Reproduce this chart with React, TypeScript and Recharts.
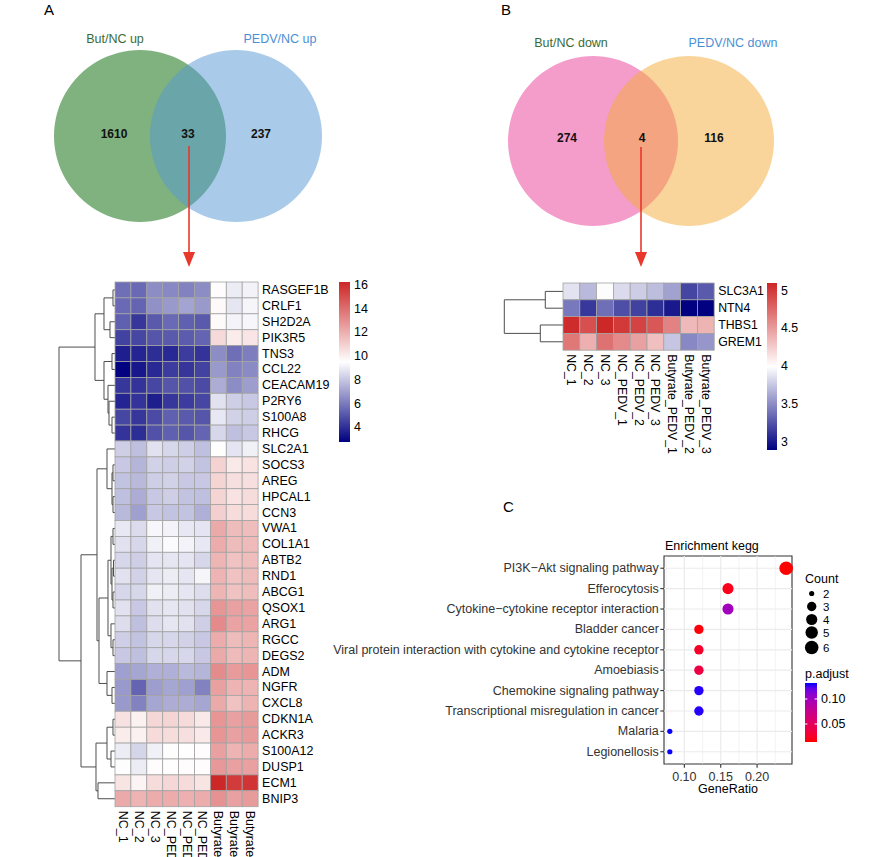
import React from 'react';
import { PieChart, Pie, Cell, ScatterChart, Scatter, XAxis, YAxis, ReferenceLine, ReferenceArea } from 'recharts';

const FONT = '"Liberation Sans", Arial, Helvetica, sans-serif';

// ---------- Venn data ----------
const vennALabels = ['But/NC up', 'PEDV/NC up'];
const vennACounts = [1610, 33, 237];
const vennBLabels = ['But/NC down', 'PEDV/NC down'];
const vennBCounts = [274, 4, 116];

// ---------- Heatmap data ----------
const samples = ['NC_1', 'NC_2', 'NC_3', 'NC_PEDV_1', 'NC_PEDV_2', 'NC_PEDV_3', 'Butyrate_PEDV_1', 'Butyrate_PEDV_2', 'Butyrate_PEDV_3'];

const genesA = ['RASGEF1B', 'CRLF1', 'SH2D2A', 'PIK3R5', 'TNS3', 'CCL22', 'CEACAM19', 'P2RY6', 'S100A8', 'RHCG',
  'SLC2A1', 'SOCS3', 'AREG', 'HPCAL1', 'CCN3', 'VWA1', 'COL1A1', 'ABTB2', 'RND1', 'ABCG1', 'QSOX1', 'ARG1', 'RGCC',
  'DEGS2', 'ADM', 'NGFR', 'CXCL8', 'CDKN1A', 'ACKR3', 'S100A12', 'DUSP1', 'ECM1', 'BNIP3'];

const exprA = [
  [5.7, 5.55, 6.5, 6.35, 6.2, 6.5, 9.6, 9.0, 9.15],
  [5.55, 5.4, 6.6, 6.8, 7.1, 6.8, 9.7, 8.85, 9.25],
  [5.3, 4.2, 5.15, 5.55, 5.3, 5.15, 9.65, 9.2, 9.3],
  [4.5, 4.6, 5.0, 5.15, 5.2, 5.4, 10.7, 10.1, 10.3],
  [3.55, 3.7, 3.95, 3.85, 4.35, 4.1, 6.5, 5.7, 6.1],
  [2.8, 3.4, 3.85, 4.35, 4.15, 4.5, 6.8, 6.2, 6.4],
  [4.2, 4.1, 4.6, 5.0, 4.9, 4.75, 7.3, 6.5, 6.9],
  [3.7, 4.1, 3.55, 4.2, 4.35, 4.6, 8.7, 8.2, 8.05],
  [4.6, 4.2, 4.75, 5.3, 5.15, 5.0, 8.9, 8.3, 8.2],
  [4.1, 3.95, 4.9, 5.3, 5.0, 5.4, 8.45, 7.8, 8.05],
  [8.2, 7.8, 8.7, 8.45, 8.2, 7.8, 9.55, 8.8, 9.1],
  [8.05, 7.55, 8.3, 8.2, 8.3, 7.9, 10.9, 10.2, 10.4],
  [7.9, 7.65, 8.2, 8.3, 8.05, 8.05, 10.85, 10.5, 10.5],
  [7.8, 7.3, 8.05, 8.2, 7.9, 7.8, 10.85, 10.4, 10.6],
  [7.65, 7.0, 8.05, 7.9, 7.9, 7.4, 11.0, 10.6, 10.6],
  [8.9, 8.55, 9.3, 9.2, 8.9, 8.8, 12.15, 11.6, 11.55],
  [8.7, 8.45, 9.1, 9.4, 9.2, 8.9, 12.1, 11.6, 11.65],
  [8.45, 8.2, 8.8, 8.85, 8.8, 8.45, 11.8, 11.4, 11.55],
  [8.7, 8.3, 8.85, 9.0, 8.85, 9.25, 11.85, 11.4, 11.6],
  [8.45, 8.45, 9.1, 9.0, 8.85, 8.6, 11.8, 11.4, 11.55],
  [8.7, 8.05, 8.7, 8.85, 8.7, 8.45, 12.8, 12.45, 12.4],
  [8.6, 7.8, 8.6, 8.85, 8.7, 8.2, 13.15, 12.4, 12.4],
  [8.2, 7.9, 8.45, 8.45, 8.3, 8.05, 12.1, 11.6, 11.8],
  [8.05, 7.8, 8.45, 8.45, 8.45, 8.05, 12.15, 11.65, 11.8],
  [7.0, 7.15, 7.4, 7.4, 7.65, 7.55, 13.1, 12.6, 12.8],
  [6.8, 5.4, 6.9, 7.15, 7.0, 6.2, 12.45, 11.85, 11.85],
  [6.8, 6.2, 7.15, 7.3, 7.3, 7.15, 12.15, 11.4, 11.85],
  [10.45, 9.95, 10.75, 10.85, 10.65, 10.2, 12.8, 12.45, 12.6],
  [10.1, 9.95, 10.65, 10.6, 10.5, 10.2, 12.8, 12.45, 12.6],
  [9.0, 8.4, 9.1, 9.45, 9.55, 9.6, 12.45, 11.85, 12.1],
  [9.45, 9.0, 9.6, 9.55, 9.6, 9.6, 12.7, 12.45, 12.45],
  [10.35, 9.85, 10.6, 10.75, 10.65, 10.35, 16.2, 15.6, 15.8],
  [12.15, 11.85, 12.1, 12.1, 12.0, 12.1, 12.9, 12.45, 12.6],
];
const rangeA = [2.76, 16.25];
const legendTicksA = [4, 6, 8, 10, 12, 14, 16];
// hclust-style merges: [a, b, height]; negative = leaf (row index + 1), positive = earlier merge (1-based)
const dendroA = [
  [-1, -2, 2], [-3, -4, 5], [1, 2, 11], [-5, -6, 3], [-9, -10, 3], [-8, 5, 6], [-7, 6, 7], [4, 7, 11],
  [3, 8, 20], [-12, -13, 2], [-14, -15, 2], [10, 11, 3], [-11, 12, 8], [-16, -17, 2], [-18, -19, 1.5],
  [-20, -21, 2], [15, 16, 3], [14, 17, 4], [-23, -24, 2], [-22, 19, 4], [18, 20, 7], [-26, -27, 3],
  [-25, 22, 8], [21, 23, 16], [13, 24, 18], [-28, -29, 2], [-30, -31, 4], [26, 27, 8], [-32, -33, 17],
  [28, 29, 19], [25, 30, 34], [9, 31, 56],
];

const genesB = ['SLC3A1', 'NTN4', 'THBS1', 'GREM1'];
const exprB = [
  [3.87, 3.69, 3.98, 3.84, 3.78, 3.71, 3.59, 3.19, 3.28],
  [3.41, 3.13, 3.37, 3.23, 3.17, 3.09, 3.0, 2.89, 2.9],
  [5.07, 4.89, 5.09, 5.0, 4.95, 4.85, 4.63, 4.35, 4.38],
  [4.68, 4.4, 4.72, 4.59, 4.48, 4.32, 3.75, 3.48, 3.54],
];
const rangeB = [2.89, 5.1];
const legendTicksB = [3, 3.5, 4, 4.5, 5];
const dendroB = [[-1, -2, 18], [-3, -4, 23], [1, 2, 59]];

// ---------- KEGG enrichment ----------
const pathways = [
  'PI3K\u2212Akt signaling pathway',
  'Efferocytosis',
  'Cytokine\u2212cytokine receptor interaction',
  'Bladder cancer',
  'Viral protein interaction with cytokine and cytokine receptor',
  'Amoebiasis',
  'Chemokine signaling pathway',
  'Transcriptional misregulation in cancer',
  'Malaria',
  'Legionellosis',
];
const geneRatio = [0.24, 0.16, 0.16, 0.12, 0.12, 0.12, 0.12, 0.12, 0.08, 0.08];
const geneCount = [6, 4, 4, 3, 3, 3, 3, 3, 2, 2];
const pAdjust = [0.0142, 0.021, 0.099, 0.016, 0.026, 0.037, 0.1305, 0.1305, 0.1318, 0.1318];
const ratioTicks = [0.1, 0.15, 0.2];
const ratioMinor = [0.075, 0.125, 0.175, 0.225];
const ratioDomain = [0.072, 0.248];
const countLegend = [2, 3, 4, 5, 6];
const pRange = [0.014, 0.132];
const pTicks = [0.05, 0.1];

// ---------- colour helpers ----------
const NAVY = [0, 0, 128];
const WHITE = [255, 255, 255];
const FIREBRICK = [205, 38, 38];
function heatColor(v: number, lo: number, hi: number) {
  const t = Math.max(0, Math.min(1, (v - lo) / (hi - lo)));
  let c: number[];
  if (t < 0.5) {
    const s = t * 2;
    c = NAVY.map((n, i) => n + (WHITE[i] - n) * s);
  } else {
    const s = (t - 0.5) * 2;
    c = WHITE.map((w, i) => w + (FIREBRICK[i] - w) * s);
  }
  return `rgb(${c.map((x) => Math.round(x)).join(',')})`;
}

function s2l(c: number) { c /= 255; return c <= 0.04045 ? c / 12.92 : Math.pow((c + 0.055) / 1.055, 2.4); }
function l2s(c: number) {
  const v = c <= 0.0031308 ? 12.92 * c : 1.055 * Math.pow(c, 1 / 2.4) - 0.055;
  return Math.round(Math.max(0, Math.min(1, v)) * 255);
}
function rgbToLab(rgb: number[]) {
  const R = s2l(rgb[0]), G = s2l(rgb[1]), B = s2l(rgb[2]);
  const X = (0.4124 * R + 0.3576 * G + 0.1805 * B) / 0.95047;
  const Y = 0.2126 * R + 0.7152 * G + 0.0722 * B;
  const Z = (0.0193 * R + 0.1192 * G + 0.9505 * B) / 1.08883;
  const f = (t: number) => (t > 0.008856 ? Math.cbrt(t) : 7.787 * t + 16 / 116);
  const fx = f(X), fy = f(Y), fz = f(Z);
  return [116 * fy - 16, 500 * (fx - fy), 200 * (fy - fz)];
}
function labToRgb(lab: number[]) {
  const fy = (lab[0] + 16) / 116, fx = fy + lab[1] / 500, fz = fy - lab[2] / 200;
  const inv = (t: number) => (t * t * t > 0.008856 ? t * t * t : (t - 16 / 116) / 7.787);
  const X = inv(fx) * 0.95047, Y = inv(fy), Z = inv(fz) * 1.08883;
  const R = 3.2406 * X - 1.5372 * Y - 0.4986 * Z;
  const G = -0.9689 * X + 1.8758 * Y + 0.0415 * Z;
  const B = 0.0557 * X - 0.204 * Y + 1.057 * Z;
  return [l2s(R), l2s(G), l2s(B)];
}
const LAB_RED = rgbToLab([255, 0, 0]);
const LAB_BLUE = rgbToLab([0, 0, 255]);
function pColorT(t: number) {
  const lab = LAB_RED.map((v, i) => v + (LAB_BLUE[i] - v) * t);
  const c = labToRgb(lab);
  return `rgb(${c.join(',')})`;
}
function pColor(p: number) {
  return pColorT(Math.max(0, Math.min(1, (p - pRange[0]) / (pRange[1] - pRange[0]))));
}
function dotRadius(count: number) {
  return 2.6 + 4.2 * Math.sqrt((count - 2) / 4);
}

function dendroSegments(merges: number[][]) {
  const pos: number[] = [];
  const hgt: number[] = [];
  const segs: number[][][] = [];
  const get = (id: number) => (id < 0 ? [-id - 1, 0] : [pos[id - 1], hgt[id - 1]]);
  merges.forEach(([a, b, h], i) => {
    const [ya, ha] = get(a);
    const [yb, hb] = get(b);
    segs.push([[ha, ya], [h, ya]], [[hb, yb], [h, yb]], [[h, ya], [h, yb]]);
    pos[i] = (ya + yb) / 2;
    hgt[i] = h;
  });
  return segs;
}

const range = (n: number) => Array.from({ length: n }, (_, i) => i);

// ---------- components ----------
function Heatmap(props: {
  left: number; top: number; cell: number; genes: string[]; expr: number[][]; lo: number; hi: number; fs: number;
}) {
  const { left, top, cell, genes, expr, lo, hi, fs } = props;
  const nR = genes.length, nC = samples.length;
  const data: any[] = [];
  expr.forEach((row, r) => row.forEach((v, c) => data.push({ x: c, y: r, v })));
  const m = 10;
  const yW = 100;
  const xH = 120;
  return (
    <div style={{ position: 'absolute', left: left - m, top: top - m }}>
      <ScatterChart width={m + nC * cell + yW} height={m + nR * cell + xH} margin={{ top: m, right: 0, bottom: 0, left: m }}>
        <XAxis type="number" dataKey="x" domain={[-0.5, nC - 0.5]} ticks={range(nC)} interval={0} height={xH}
          axisLine={false} tickLine={false} tickSize={0} tickMargin={4}
          tick={(p: any) => (
            <text transform={`translate(${p.x},${p.y}) rotate(90)`} x={0} y={0} fontSize={fs} fontFamily={FONT}
              dominantBaseline="central" textAnchor="start" fill="#000">{samples[p.payload.value]}</text>
          )} />
        <YAxis type="number" dataKey="y" domain={[-0.5, nR - 0.5]} reversed ticks={range(nR)} interval={0}
          orientation="right" width={yW} axisLine={false} tickLine={false} tickSize={0} tickMargin={4}
          tick={(p: any) => (
            <text x={p.x} y={p.y} fontSize={fs} fontFamily={FONT} dominantBaseline="central" textAnchor="start" fill="#000">
              {genes[p.payload.value]}
            </text>
          )} />
        <Scatter data={data} isAnimationActive={false}
          shape={(p: any) => (
            <rect x={p.cx - cell / 2} y={p.cy - cell / 2} width={cell} height={cell}
              fill={heatColor(p.payload.v, lo, hi)} stroke="#a3a3a3" strokeWidth={0.8} />
          )} />
      </ScatterChart>
    </div>
  );
}

function Dendro(props: { left: number; top: number; width: number; cell: number; n: number; merges: number[][] }) {
  const { left, top, width, cell, n, merges } = props;
  const segs = dendroSegments(merges);
  const m = 10;
  const leaves = range(n).map((i) => ({ x: 0, y: i }));
  return (
    <div style={{ position: 'absolute', left, top: top - m }}>
      <ScatterChart width={width} height={m * 2 + n * cell} margin={{ top: m, right: 0, bottom: m, left: 0 }}>
        <XAxis type="number" dataKey="x" domain={[0, width]} reversed hide />
        <YAxis type="number" dataKey="y" domain={[-0.5, n - 0.5]} reversed hide />
        <Scatter data={leaves} isAnimationActive={false} shape={() => <g />} />
        {segs.map((s, i) => (
          <ReferenceLine key={i} segment={[{ x: s[0][0], y: s[0][1] }, { x: s[1][0], y: s[1][1] }]}
            stroke="#4d4d4d" strokeWidth={1} ifOverflow="visible" />
        ))}
      </ScatterChart>
    </div>
  );
}

function ColorBar(props: {
  left: number; top: number; width: number; height: number; lo: number; hi: number; ticks: number[];
  grad: string; fs: number; fmt: (v: number) => string; whiteTicks?: boolean;
}) {
  const { left, top, width, height, lo, hi, ticks, grad, fs, fmt, whiteTicks } = props;
  const m = 10;
  const yW = 40;
  return (
    <div style={{ position: 'absolute', left: left - m, top: top - m }}>
      <ScatterChart width={m + width + yW} height={m + height + 5} margin={{ top: m, right: 0, bottom: 5, left: m }}>
        <XAxis type="number" dataKey="x" domain={[0, 1]} hide />
        <YAxis type="number" dataKey="y" domain={[lo, hi]} ticks={ticks} interval={0} orientation="right" width={yW}
          axisLine={false} tickLine={false} tickSize={0} tickMargin={4}
          tick={(p: any) => (
            <text x={p.x} y={p.y} fontSize={fs} fontFamily={FONT} dominantBaseline="central" textAnchor="start" fill="#000">
              {fmt(p.payload.value)}
            </text>
          )} />
        <Scatter data={ticks.map((t) => ({ x: 0.5, y: t }))} isAnimationActive={false} shape={() => <g />} />
        <ReferenceArea x1={0} x2={1} y1={lo} y2={hi} fill={`url(#${grad})`} fillOpacity={1} stroke="none" ifOverflow="visible" />
        {whiteTicks && ticks.map((t) => (
          <ReferenceLine key={'a' + t} segment={[{ x: 0, y: t }, { x: 0.2, y: t }]} stroke="#fff" strokeWidth={1} ifOverflow="visible" />
        ))}
        {whiteTicks && ticks.map((t) => (
          <ReferenceLine key={'b' + t} segment={[{ x: 0.8, y: t }, { x: 1, y: t }]} stroke="#fff" strokeWidth={1} ifOverflow="visible" />
        ))}
      </ScatterChart>
    </div>
  );
}

function DotPlot() {
  const data = pathways.map((name, i) => ({ idx: i, ratio: geneRatio[i], count: geneCount[i], p: pAdjust[i] }));
  const yW = 364;
  const plotW = 128;
  const plotH = 208;
  const fs = 12.5;
  return (
    <div style={{ position: 'absolute', left: 300, top: 546 }}>
      <ScatterChart width={yW + plotW + 10} height={10 + plotH + 30} margin={{ top: 10, right: 10, bottom: 0, left: 0 }}>
        <XAxis type="number" dataKey="ratio" domain={ratioDomain} ticks={ratioTicks} interval={0} height={30}
          axisLine={false} tickLine={{ stroke: '#333', strokeWidth: 1.1 }} tickSize={3.7} tickMargin={4}
          tick={(p: any) => (
            <text x={p.x} y={p.y} dy="0.71em" fontSize={fs} fontFamily={FONT} textAnchor="middle" fill="#333">
              {Number(p.payload.value).toFixed(2)}
            </text>
          )} />
        <YAxis type="number" dataKey="idx" domain={[-0.6, pathways.length - 0.4]} reversed ticks={range(pathways.length)}
          interval={0} width={yW} axisLine={false} tickLine={{ stroke: '#333', strokeWidth: 1.1 }} tickSize={3.7} tickMargin={1.5}
          tick={(p: any) => (
            <text x={p.x} y={p.y} fontSize={fs} fontFamily={FONT} dominantBaseline="central" textAnchor="end" fill="#333">
              {pathways[p.payload.value]}
            </text>
          )} />
        {ratioMinor.map((v) => (
          <ReferenceLine key={'mn' + v} x={v} stroke="#ebebeb" strokeWidth={0.6} />
        ))}
        {ratioTicks.map((v) => (
          <ReferenceLine key={'mj' + v} x={v} stroke="#ebebeb" strokeWidth={1.2} />
        ))}
        {range(pathways.length).map((i) => (
          <ReferenceLine key={'h' + i} y={i} stroke="#ebebeb" strokeWidth={1.2} />
        ))}
        <Scatter data={data} isAnimationActive={false}
          shape={(p: any) => <circle cx={p.cx} cy={p.cy} r={dotRadius(p.payload.count)} fill={pColor(p.payload.p)} />} />
        <ReferenceArea x1={ratioDomain[0]} x2={ratioDomain[1]} y1={-0.6} y2={pathways.length - 0.4}
          fill="none" stroke="#333" strokeWidth={1.1} ifOverflow="visible" />
      </ScatterChart>
    </div>
  );
}

function Venns() {
  const totA = [vennACounts[0] + vennACounts[1], vennACounts[1] + vennACounts[2]];
  const totB = [vennBCounts[0] + vennBCounts[1], vennBCounts[1] + vennBCounts[2]];
  return (
    <div style={{ position: 'absolute', left: 0, top: 0 }}>
      <PieChart width={882} height={250} margin={{ top: 0, right: 0, bottom: 0, left: 0 }}>
        <Pie data={[{ name: vennALabels[0], value: totA[0] }]} dataKey="value" cx={140} cy={136} innerRadius={0}
          outerRadius={86} stroke="none" isAnimationActive={false}>
          <Cell fill="#7fb27f" />
        </Pie>
        <Pie data={[{ name: vennALabels[1], value: totA[1] }]} dataKey="value" cx={236} cy={136} innerRadius={0}
          outerRadius={86} stroke="none" isAnimationActive={false}>
          <Cell fill="#5397d3" fillOpacity={0.5} />
        </Pie>
        <Pie data={[{ name: vennBLabels[0], value: totB[0] }]} dataKey="value" cx={593} cy={141} innerRadius={0}
          outerRadius={85} stroke="none" isAnimationActive={false}>
          <Cell fill="#f49dcb" />
        </Pie>
        <Pie data={[{ name: vennBLabels[1], value: totB[1] }]} dataKey="value" cx={689} cy={141} innerRadius={0}
          outerRadius={85} stroke="none" isAnimationActive={false}>
          <Cell fill="#f3ab37" fillOpacity={0.5} />
        </Pie>
      </PieChart>
    </div>
  );
}

function Overlay() {
  const pStops = range(11).map((i) => i / 10);
  const txt = { fontFamily: FONT, fontSize: 12.5 } as const;
  const green = '#3b6b34';
  const blue = '#4a8fd6';
  const arrowRed = '#e8382c';
  const countY = [593.5, 606.5, 619.5, 632.5, 647.5];
  return (
    <svg width={882} height={857} style={{ position: 'absolute', left: 0, top: 0, pointerEvents: 'none' }}>
      <defs>
        <linearGradient id="heatGrad" x1="0" y1="0" x2="0" y2="1">
          <stop offset="0" stopColor="rgb(205,38,38)" />
          <stop offset="0.5" stopColor="rgb(255,255,255)" />
          <stop offset="1" stopColor="rgb(0,0,128)" />
        </linearGradient>
        <linearGradient id="pGrad" x1="0" y1="0" x2="0" y2="1">
          {pStops.map((t) => (
            <stop key={t} offset={t} stopColor={pColorT(1 - t)} />
          ))}
        </linearGradient>
      </defs>
      {/* panel letters */}
      <text x={44} y={15} fontFamily={FONT} fontSize={15}>A</text>
      <text x={501} y={15} fontFamily={FONT} fontSize={15}>B</text>
      <text x={503} y={512} fontFamily={FONT} fontSize={15}>C</text>
      {/* Venn A */}
      <text x={115} y={43} {...txt} fill={green} textAnchor="middle">{vennALabels[0]}</text>
      <text x={280} y={43} {...txt} fill={blue} textAnchor="middle">{vennALabels[1]}</text>
      <text x={114} y={138} fontFamily={FONT} fontSize={12} fontWeight="bold" textAnchor="middle" fill="#111">{vennACounts[0]}</text>
      <text x={188} y={138} fontFamily={FONT} fontSize={12} fontWeight="bold" textAnchor="middle" fill="#111">{vennACounts[1]}</text>
      <text x={261} y={138} fontFamily={FONT} fontSize={12} fontWeight="bold" textAnchor="middle" fill="#111">{vennACounts[2]}</text>
      <line x1={189} y1={146} x2={189} y2={256} stroke={arrowRed} strokeWidth={1.6} />
      <polygon points="183,252 195,252 189,267" fill={arrowRed} />
      {/* Venn B */}
      <text x={571} y={47} {...txt} fill={green} textAnchor="middle">{vennBLabels[0]}</text>
      <text x={733} y={47} {...txt} fill={blue} textAnchor="middle">{vennBLabels[1]}</text>
      <text x={567} y={142} fontFamily={FONT} fontSize={12} fontWeight="bold" textAnchor="middle" fill="#111">{vennBCounts[0]}</text>
      <text x={642} y={142} fontFamily={FONT} fontSize={12} fontWeight="bold" textAnchor="middle" fill="#111">{vennBCounts[1]}</text>
      <text x={714} y={142} fontFamily={FONT} fontSize={12} fontWeight="bold" textAnchor="middle" fill="#111">{vennBCounts[2]}</text>
      <line x1={641} y1={147} x2={641} y2={256} stroke={arrowRed} strokeWidth={1.6} />
      <polygon points="635,252 647,252 641,267" fill={arrowRed} />
      {/* C annotations */}
      <text x={665} y={550} {...txt} fill="#000">Enrichment kegg</text>
      <text x={728} y={793} {...txt} fill="#000" textAnchor="middle">GeneRatio</text>
      <text x={805} y={583} {...txt} fill="#000">Count</text>
      {countLegend.map((c, i) => (
        <g key={c}>
          <circle cx={811.7} cy={countY[i]} r={dotRadius(c)} fill="#000" />
          <text x={823} y={countY[i]} fontFamily={FONT} fontSize={11.5} dominantBaseline="central" fill="#000">{c}</text>
        </g>
      ))}
      <text x={805} y={678} {...txt} fill="#000">p.adjust</text>
    </svg>
  );
}

export default function App() {
  return (
    <div style={{ position: 'absolute', left: 0, top: 0, width: 882, height: 857, overflow: 'hidden', background: '#fff', fontFamily: FONT }}>
      <Venns />
      <Dendro left={50} top={282} width={65} cell={15.9} n={genesA.length} merges={dendroA} />
      <Heatmap left={115} top={282} cell={15.9} genes={genesA} expr={exprA} lo={rangeA[0]} hi={rangeA[1]} fs={12.5} />
      <ColorBar left={339} top={282} width={11} height={160} lo={rangeA[0]} hi={rangeA[1]} ticks={legendTicksA}
        grad="heatGrad" fs={12.5} fmt={(v) => String(v)} />
      <Dendro left={500} top={282.7} width={63.3} cell={16.8} n={genesB.length} merges={dendroB} />
      <Heatmap left={563.3} top={282.7} cell={16.8} genes={genesB} expr={exprB} lo={rangeB[0]} hi={rangeB[1]} fs={12.3} />
      <ColorBar left={767} top={283} width={10} height={167} lo={rangeB[0]} hi={rangeB[1]} ticks={legendTicksB}
        grad="heatGrad" fs={12.3} fmt={(v) => String(v)} />
      <DotPlot />
      <ColorBar left={805} top={683} width={12} height={59} lo={pRange[0]} hi={pRange[1]} ticks={pTicks}
        grad="pGrad" fs={12.5} fmt={(v) => v.toFixed(2)} whiteTicks />
      <Overlay />
    </div>
  );
}
